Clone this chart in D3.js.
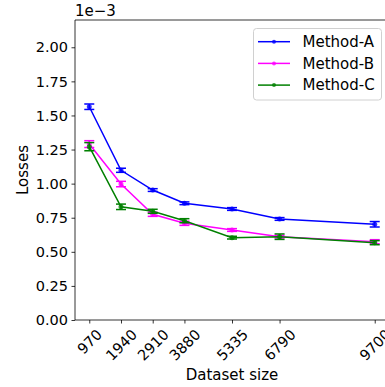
<!DOCTYPE html>
<html><head><meta charset="utf-8">
<script src="https://cdn.jsdelivr.net/npm/d3@7"></script>
<style>body{margin:0;background:#fff;} text{font-family:"DejaVu Sans",sans-serif;fill:#000;}</style>
</head><body>
<svg id="c" width="385" height="387"></svg>
<script>
const sizes = [970, 1940, 2910, 3880, 5335, 6790, 9700];
const methodA = [1.564, 1.098, 0.953, 0.856, 0.814, 0.741, 0.702];
const methodAErr = [0.02, 0.015, 0.01, 0.01, 0.01, 0.01, 0.02];
const methodB = [1.29, 0.997, 0.775, 0.709, 0.66, 0.611, 0.574];
const methodBErr = [0.025, 0.02, 0.015, 0.015, 0.01, 0.01, 0.015];
const methodC = [1.271, 0.83, 0.797, 0.728, 0.604, 0.611, 0.567];
const methodCErr = [0.03, 0.02, 0.015, 0.015, 0.01, 0.02, 0.015];
const yTicks = [0, 0.25, 0.5, 0.75, 1.0, 1.25, 1.5, 1.75, 2.0];
const seriesNames = ["Method-A", "Method-B", "Method-C"];
const colors = ["#0000ff", "#ff00ff", "#008000"];

const series = [
  {name: seriesNames[0], vals: methodA, err: methodAErr, color: colors[0]},
  {name: seriesNames[1], vals: methodB, err: methodBErr, color: colors[1]},
  {name: seriesNames[2], vals: methodC, err: methodCErr, color: colors[2]},
];

const TICK_FS = 14.5, LAB_FS = 15;
const L = 75, T = 20, R = 389, B = 320;
const svg = d3.select("#c");
const span = sizes[sizes.length-1] - sizes[0];
const x = d3.scaleLinear().domain([sizes[0] - span*0.05, sizes[sizes.length-1] + span*0.05]).range([L, R]);
const y = d3.scaleLinear().domain([0, 2.2]).range([B, T]);

// spines
const sp = svg.append("g").attr("stroke", "#000").attr("stroke-width", 0.8).attr("fill", "none");
sp.append("line").attr("x1", L).attr("x2", L).attr("y1", T).attr("y2", B);
sp.append("line").attr("x1", L).attr("x2", R).attr("y1", B).attr("y2", B);
sp.append("line").attr("x1", L).attr("x2", R).attr("y1", T).attr("y2", T);
sp.append("line").attr("x1", R).attr("x2", R).attr("y1", T).attr("y2", B);

// y axis
const yAx = svg.append("g").attr("transform", `translate(${L},0)`)
  .call(d3.axisLeft(y).tickValues(yTicks).tickFormat(d3.format(".2f")).tickSize(3.5).tickPadding(3.5));
yAx.select(".domain").remove();
yAx.selectAll("line").attr("stroke", "#000").attr("stroke-width", 0.8);
yAx.selectAll("text").attr("font-size", TICK_FS).attr("font-family", "DejaVu Sans").attr("fill", "#000");

// x axis
const xAx = svg.append("g").attr("transform", `translate(0,${B})`)
  .call(d3.axisBottom(x).tickValues(sizes).tickFormat(d3.format("d")).tickSize(3.5));
xAx.select(".domain").remove();
xAx.selectAll("line").attr("stroke", "#000").attr("stroke-width", 0.8);
xAx.selectAll("text").each(function(d) {
  const t = d3.select(this);
  t.attr("font-size", TICK_FS).attr("font-family", "DejaVu Sans").attr("fill", "#000")
   .attr("text-anchor", "middle").attr("dy", null).attr("y", 0);
  const w = this.getComputedTextLength();
  const h = TICK_FS * 0.75;
  const bb = (w + h) / Math.SQRT2;
  t.attr("dominant-baseline", "central")
   .attr("transform", `translate(0,${8 + bb/2}) rotate(-45)`);
});

// labels
svg.append("text").attr("x", (L+R)/2).attr("y", 380).attr("text-anchor", "middle").attr("font-size", LAB_FS).text("Dataset size");
svg.append("text").attr("transform", `translate(28,${(T+B)/2}) rotate(-90)`).attr("text-anchor", "middle").attr("font-size", LAB_FS).text("Losses");
svg.append("text").attr("x", L).attr("y", 16).attr("font-size", LAB_FS).text("1e\u22123");

// series
const line = d3.line().x((d, i) => x(sizes[i])).y(d => y(d));
series.forEach(s => {
  const g = svg.append("g");
  g.append("path").attr("d", line(s.vals)).attr("fill", "none").attr("stroke", s.color).attr("stroke-width", 1.5);
  s.vals.forEach((v, i) => {
    const cx = x(sizes[i]);
    const y1 = y(v + s.err[i]), y2 = y(v - s.err[i]);
    g.append("line").attr("x1", cx).attr("x2", cx).attr("y1", y1).attr("y2", y2).attr("stroke", s.color).attr("stroke-width", 1.5);
    [y1, y2].forEach(yy => g.append("line").attr("x1", cx-5).attr("x2", cx+5).attr("y1", yy).attr("y2", yy).attr("stroke", s.color).attr("stroke-width", 1.5));
    g.append("circle").attr("cx", cx).attr("cy", y(v)).attr("r", 2.5).attr("fill", s.color).attr("fill-opacity", 0.8);
  });
});

// legend
const lg = svg.append("g");
lg.append("rect").attr("x", 253.5).attr("y", 28.5).attr("width", 128).attr("height", 71.5).attr("rx", 3)
  .attr("fill", "#fff").attr("fill-opacity", 0.8).attr("stroke", "#d0d0d0").attr("stroke-width", 1);
series.forEach((s, i) => {
  const yy = 41.7 + i * 21.7;
  lg.append("line").attr("x1", 258).attr("x2", 290).attr("y1", yy).attr("y2", yy).attr("stroke", s.color).attr("stroke-width", 1.5);
  lg.append("circle").attr("cx", 274).attr("cy", yy).attr("r", 2).attr("fill", s.color).attr("fill-opacity", 0.8);
  lg.append("text").attr("x", 302.5).attr("y", yy).attr("dy", "0.35em").attr("font-size", LAB_FS).text(s.name);
});
</script>
</body></html>
